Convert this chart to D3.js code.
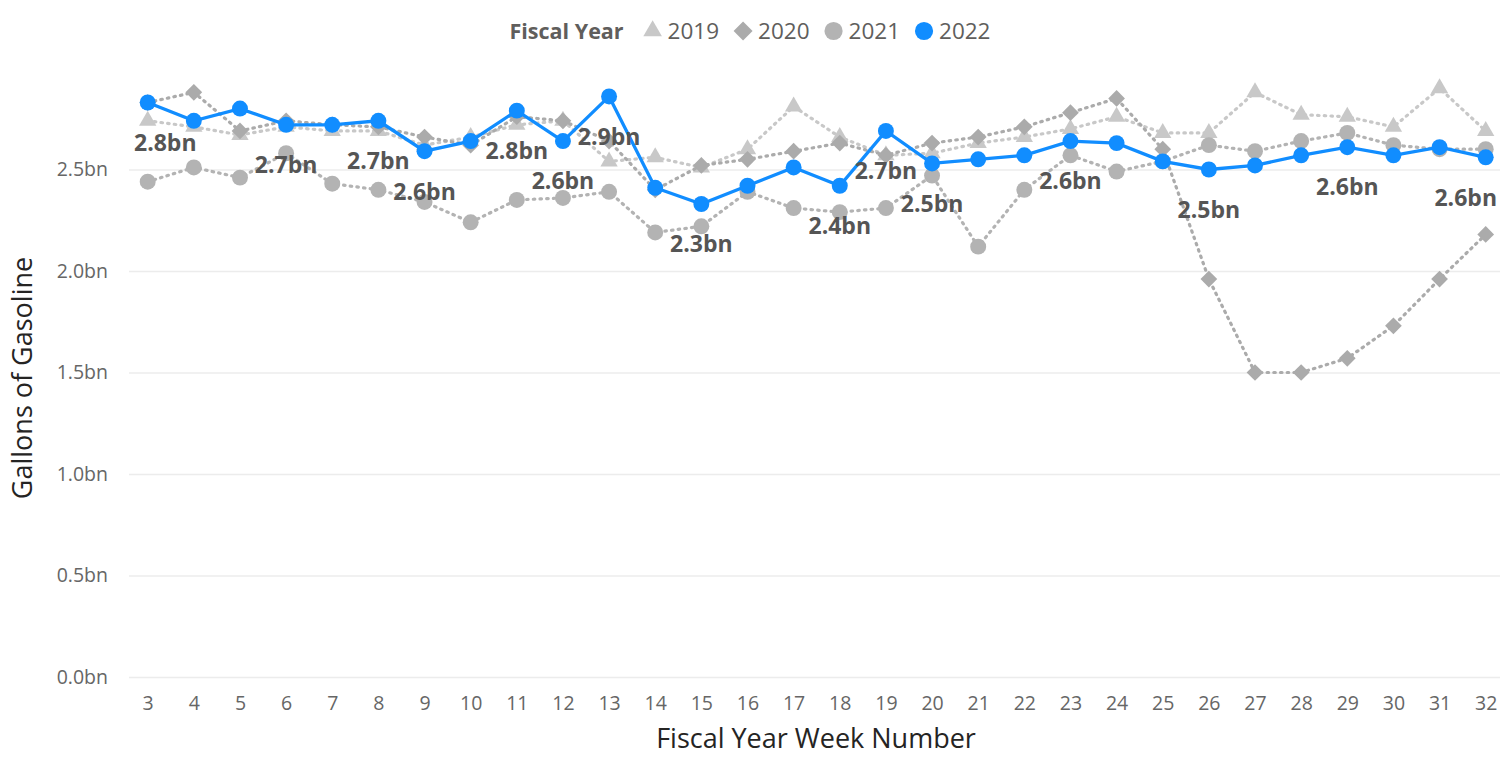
<!DOCTYPE html>
<html>
<head>
<meta charset="utf-8">
<script src="https://cdn.jsdelivr.net/npm/d3@7/dist/d3.min.js"></script>
<style>
  body { margin: 0; background: #fff; }
  text { font-family: "Open Sans", "Noto Sans", sans-serif; }
</style>
</head>
<body>
<div id="chart"></div>
<script>
// fiscal year week numbers (x categories)
var weeks = [3, 4, 5, 6, 7, 8, 9, 10, 11, 12, 13, 14, 15, 16, 17, 18, 19, 20, 21, 22, 23, 24, 25, 26, 27, 28, 29, 30, 31, 32];

// gallons of gasoline, billions
var fy2019 = [2.74, 2.71, 2.67, 2.71, 2.69, 2.69, 2.62, 2.66, 2.72, 2.74, 2.54, 2.56, 2.51, 2.60, 2.81, 2.66, 2.57, 2.58, 2.63, 2.66, 2.70, 2.76, 2.68, 2.68, 2.88, 2.77, 2.76, 2.71, 2.90, 2.69];
var fy2020 = [2.83, 2.88, 2.69, 2.74, 2.72, 2.71, 2.66, 2.62, 2.76, 2.74, 2.64, 2.40, 2.52, 2.55, 2.59, 2.63, 2.57, 2.63, 2.66, 2.71, 2.78, 2.85, 2.60, 1.96, 1.50, 1.50, 1.57, 1.73, 1.96, 2.18];
var fy2021 = [2.44, 2.51, 2.46, 2.58, 2.43, 2.40, 2.34, 2.24, 2.35, 2.36, 2.39, 2.19, 2.22, 2.39, 2.31, 2.29, 2.31, 2.47, 2.12, 2.40, 2.57, 2.49, 2.54, 2.62, 2.59, 2.64, 2.68, 2.62, 2.60, 2.60];
var fy2022 = [2.83, 2.74, 2.80, 2.72, 2.72, 2.74, 2.59, 2.64, 2.79, 2.64, 2.86, 2.41, 2.33, 2.42, 2.51, 2.42, 2.69, 2.53, 2.55, 2.57, 2.64, 2.63, 2.54, 2.50, 2.52, 2.57, 2.61, 2.57, 2.61, 2.56];

// weeks of the 2022 series that carry a data label
var labeledWeeks = [3, 6, 8, 9, 11, 12, 13, 15, 18, 19, 20, 23, 26, 29, 32];

var yTicks = [0, 0.5, 1.0, 1.5, 2.0, 2.5];
var seriesNames = ["2019", "2020", "2021", "2022"];
var seriesValues = [fy2019, fy2020, fy2021, fy2022];
var seriesShapes = ["triangle", "diamond", "circle", "circle"];
var seriesColors = ["#c8c8c8", "#ababab", "#b3b3b3", "#118dff"];

var width = 1501, height = 759;
var plotLeft = 129, plotRight = 1500;

var svg = d3.select("#chart").append("svg")
    .attr("width", width)
    .attr("height", height);

var x = d3.scalePoint().domain(weeks).range([147.7, 1485.7]);
var y = d3.scaleLinear().domain([0, 3]).range([677, 68]);

var fmt = function (d) { return d3.format(".1f")(d) + "bn"; };

// y grid + tick labels
var yAxis = svg.append("g")
    .attr("transform", "translate(" + plotLeft + ",0)")
    .call(d3.axisLeft(y).tickValues(yTicks).tickSize(-(plotRight - plotLeft)).tickPadding(21).tickFormat(fmt));
yAxis.select(".domain").remove();
yAxis.selectAll("line").attr("stroke", "#ececec").attr("stroke-width", 1.5);
yAxis.selectAll("text").attr("fill", "#666").style("font-size", "19.5px");

// x tick labels
var xAxis = svg.append("g")
    .attr("transform", "translate(0," + y(0) + ")")
    .call(d3.axisBottom(x).tickSize(0).tickPadding(19));
xAxis.select(".domain").remove();
xAxis.selectAll("text").attr("fill", "#666").style("font-size", "19.5px");

// axis titles
svg.append("text")
    .attr("x", 816).attr("y", 748)
    .attr("text-anchor", "middle")
    .attr("fill", "#252423")
    .style("font-size", "27px")
    .text("Fiscal Year Week Number");

svg.append("text")
    .attr("transform", "translate(32,378) rotate(-90)")
    .attr("text-anchor", "middle")
    .attr("fill", "#252423")
    .style("font-size", "27px")
    .text("Gallons of Gasoline");

var symbolFor = function (shape, size) {
    var type = shape === "triangle" ? d3.symbolTriangle : shape === "diamond" ? d3.symbolSquare : d3.symbolCircle;
    return d3.symbol().type(type).size(size)();
};

// series
seriesValues.forEach(function (vals, i) {
    var pts = weeks.map(function (w, j) { return { week: w, value: vals[j] }; });
    var isMain = i === 3;
    var g = svg.append("g");
    var line = d3.line()
        .x(function (d) { return x(d.week); })
        .y(function (d) { return y(d.value); });
    g.append("path")
        .datum(pts)
        .attr("d", line)
        .attr("fill", "none")
        .attr("stroke", seriesColors[i])
        .attr("stroke-width", isMain ? 3.3 : 3.2)
        .attr("stroke-linecap", isMain ? "butt" : "round")
        .attr("stroke-dasharray", isMain ? null : "1.5,5.2");
    g.selectAll("path.marker")
        .data(pts)
        .enter()
        .append("path")
        .attr("class", "marker")
        .attr("transform", function (d) {
            var r = seriesShapes[i] === "diamond" ? " rotate(45)" : "";
            return "translate(" + x(d.week) + "," + y(d.value) + ")" + r;
        })
        .attr("d", seriesShapes[i] === "triangle" ? symbolFor("triangle", 130) :
                   seriesShapes[i] === "diamond" ? symbolFor("diamond", 140) : symbolFor("circle", 200))
        .attr("fill", seriesColors[i]);
});

// data labels for 2022
var labelData = labeledWeeks.map(function (w) {
    return { week: w, value: fy2022[weeks.indexOf(w)] };
});
svg.append("g").selectAll("text")
    .data(labelData)
    .enter()
    .append("text")
    .attr("y", function (d) { return y(d.value) + 40; })
    .attr("dy", "0.36em")
    .attr("text-anchor", "middle")
    .attr("fill", "#555")
    .style("font-size", "23px")
    .style("font-weight", "bold")
    .text(function (d) { return fmt(d.value); })
    .attr("x", function (d) {
        var w = this.getComputedTextLength();
        var cx = x(d.week);
        return Math.max(134 + w / 2, Math.min(1497 - w / 2, cx));
    });

// legend
var legend = svg.append("g");
var lx = 0;
var title = legend.append("text")
    .attr("x", lx).attr("y", 31).attr("dy", "0.35em")
    .attr("fill", "#605e5c")
    .style("font-size", "21.5px")
    .style("font-weight", "bold")
    .text("Fiscal Year");
lx += title.node().getComputedTextLength() + 29;
seriesNames.forEach(function (name, i) {
    legend.append("path")
        .attr("transform", "translate(" + lx + ",31)" + (seriesShapes[i] === "diamond" ? " rotate(45)" : ""))
        .attr("d", seriesShapes[i] === "triangle" ? symbolFor("triangle", 150) :
                   seriesShapes[i] === "diamond" ? symbolFor("diamond", 180) : symbolFor("circle", 260))
        .attr("fill", seriesColors[i]);
    var t = legend.append("text")
        .attr("x", lx + 15).attr("y", 31).attr("dy", "0.35em")
        .attr("fill", "#605e5c")
        .style("font-size", "22.5px")
        .text(name);
    lx += 15 + t.node().getComputedTextLength() + 24;
});
var legendWidth = lx - 24;
legend.attr("transform", "translate(" + (750 - legendWidth / 2) + ",0)");
</script>
</body>
</html>
